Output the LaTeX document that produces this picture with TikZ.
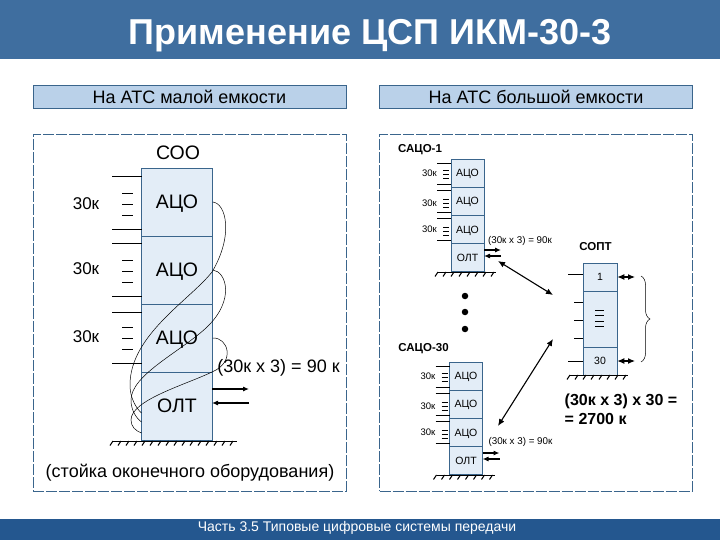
\documentclass[tikz,border=0pt]{standalone}
\usepackage{fontspec}
\setmainfont{Liberation Sans}
\usetikzlibrary{arrows.meta, decorations.pathreplacing}
\definecolor{barTop}{HTML}{3F6E9F}
\definecolor{barBot}{HTML}{24578F}
\definecolor{headFill}{HTML}{BAD1E9}
\definecolor{cellFill}{HTML}{E3EDF7}
\definecolor{edgeCol}{HTML}{3A658C}
\tikzset{
  bar/.style     ={draw=none, inner sep=0pt, text=white, minimum width=720pt},
  head/.style    ={draw=edgeCol, fill=headFill, inner sep=0pt, line width=0.6pt,
                   minimum width=313pt, minimum height=23pt,
                   font=\fontsize{18}{20}\selectfont},
  panel/.style   ={draw=edgeCol, dash pattern=on 11pt off 2pt, inner sep=0pt,
                   line width=0.6pt, minimum width=313pt, minimum height=357pt},
  bigcell/.style ={draw=edgeCol, fill=cellFill, inner sep=0pt, line width=0.7pt,
                   minimum width=70.5pt, minimum height=68pt, text depth=0pt,
                   font=\fontsize{19.5}{22}\selectfont},
  smallcell/.style={draw=edgeCol, fill=cellFill, inner sep=0pt, line width=0.6pt,
                   minimum width=33pt, minimum height=28pt, text depth=0pt,
                   font=\fontsize{10.5}{12}\selectfont},
  biglabel/.style={inner sep=0pt, font=\fontsize{17}{20}\selectfont},
  smalllabel/.style={inner sep=0pt, font=\fontsize{9.5}{11}\selectfont},
  rackname/.style={inner sep=0pt, font=\bfseries\fontsize{11.5}{14}\selectfont},
  pin/.style     ={-, black, line width=0.6pt},
  wire/.style    ={-, black, line width=0.5pt},
  flow/.style    ={-{Latex[length=6pt,width=5pt]}, black, line width=1.1pt},
  link/.style    ={{Latex[length=7pt,width=6pt]}-{Latex[length=7pt,width=6pt]}, black, line width=1.1pt},
  dotnode/.style ={circle, fill=black, inner sep=0pt, minimum size=6.5pt},
}
\newcommand{\groundline}[4]{% x1, x2, y, hatch step
  \pgfmathsetmacro{\ha}{#1}
  \pgfmathsetmacro{\hb}{#1+#4}
  \pgfmathsetmacro{\hc}{#2}
  \draw[black, line width=1pt] (\ha,#3) -- (\hc,#3);
  \foreach \hx in {\ha,\hb,...,\hc} {\draw[black, line width=1pt] (\hx,#3) -- ++(-3,4.5);}
}
\begin{document}
\begin{tikzpicture}[x=1pt, y=-1pt]
\useasboundingbox (0,0) rectangle (720,540);

\node[bar, fill=barTop, minimum height=59pt] (titlebar) at (360,29.5) {};
\node[inner sep=0pt, text=white, font=\bfseries\fontsize{36}{41}\selectfont] (title) at (370,36)
  {Применение ЦСП ИКМ-30-3};
\node[bar, fill=barBot, minimum height=21pt] (footbar) at (360,529.5) {};
\node[inner sep=0pt, text=white, font=\fontsize{14}{16}\selectfont] (foot) at (357,528)
  {Часть 3.5 Типовые цифровые системы передачи};

\node[head] (headL) at (189.5,96.5) {На АТС малой емкости};
\node[head] (headR) at (536,96.5) {На АТС большой емкости};
\node[panel] (panelL) at (189.5,312.5) {};
\node[panel] (panelR) at (536,312.5) {};

% small exchange
\foreach \name/\txt/\yc in {A/АЦО/202, B/АЦО/270, C/АЦО/338, D/ОЛТ/406} {
  \node[bigcell] (cell\name) at (177,\yc) {\txt};
}
\node[biglabel, font=\fontsize{19.5}{22}\selectfont] (soo) at (178,152.5) {СОО};
\foreach \yt in {176,229,243,296,312,363} {\draw[pin] (112,\yt) -- (141.5,\yt);}
\foreach \yt in {193,204,215,260,271,282,327,338,349} {\draw[pin] (122,\yt) -- (133,\yt);}
\foreach \num/\yc in {1/204, 2/269, 3/337} {
  \node[biglabel] (ch\num) at (86,\yc) {30к};
}
\groundline{113}{237}{441}{8}
\coordinate (endA) at (141.5,413);
\coordinate (endB) at (141.5,422);
\coordinate (endC) at (141.5,433);
\draw[wire] (cellA.east) .. controls (226,203) and (234,235) .. (212,272)
  .. controls (190,300) and (130,335) .. (130,385) .. controls (130,398) and (136,408) .. (endA);
\draw[wire] (cellB.east) .. controls (226,271) and (236,300) .. (206,328)
  .. controls (180,352) and (131,375) .. (131,400) .. controls (131,410) and (136,418) .. (endB);
\draw[wire] (cellC.east) .. controls (228,337) and (236,362) .. (212,372)
  .. controls (185,385) and (131,400) .. (131,420) .. controls (131,427) and (136,431) .. (endC);
\coordinate (outA) at (249,389);
\coordinate (outB) at (249,403);
\draw[flow] (212,389) -- (outA);
\draw[flow] (outB) -- (212,403);
\node[inner sep=0pt, font=\fontsize{18}{20}\selectfont] (sumL) at (278.5,368) {(30к х 3) = 90 к};
\node[biglabel, font=\fontsize{18}{20}\selectfont] (rackname) at (190,473) {(стойка оконечного оборудования)};

% large exchange
\foreach \rk/\xo/\yo/\rktitle/\lx/\ly in {S/451/159/САЦО-1/420/150, T/449.5/362/САЦО-30/423.5/349} {
  \foreach \name/\txt/\n in {a/АЦО/0, b/АЦО/1, c/АЦО/2, d/ОЛТ/3} {
    \node[smallcell] (\rk\name) at (\xo+16.5,\yo+14+28.2*\n) {\txt};
  }
  \node[rackname] (\rk name) at (\lx,\ly) {\rktitle};
  \foreach \yt in {4,25,31,53,59,81} {\draw[pin] (\xo-14,\yo+\yt) -- (\xo,\yo+\yt);}
  \foreach \yt in {11,15,19,40,44,48,68,72,76} {\draw[pin] (\xo-8,\yo+\yt) -- (\xo-2,\yo+\yt);}
  \foreach \n/\yt in {1/14, 2/44, 3/70} {
    \node[smalllabel] (\rk ch\n) at (\xo-21.5,\yo+\yt) {30к};
  }
  \groundline{\xo-13}{\xo+45}{\yo+113}{8}
  \coordinate (\rk outA) at (\xo+50,\yo+91);
  \coordinate (\rk outB) at (\xo+50,\yo+97);
  \draw[flow] (\xo+33,\yo+91) -- (\rk outA);
  \draw[flow] (\rk outB) -- (\xo+33,\yo+97);
}
\node[smalllabel, font=\fontsize{9.8}{11}\selectfont] (sumS) at (520,241) {(30к х 3) = 90к};
\node[smalllabel, font=\fontsize{9.8}{11}\selectfont] (sumT) at (520.5,442) {(30к х 3) = 90к};
\foreach \n/\yc in {1/296, 2/312, 3/329} {\node[dotnode] (dot\n) at (465,\yc) {};}

% optical rack
\node[rackname] (soptname) at (595.5,247) {СОПТ};
\node[smallcell, minimum width=34pt, minimum height=28pt] (opt1) at (600,277) {1};
\node[smallcell, minimum width=34pt, minimum height=56pt] (optm) at (600,319) {};
\node[smallcell, minimum width=34pt, minimum height=28pt] (opt30) at (600,361) {30};
\foreach \yt in {274,361} {\draw[pin] (568,\yt) -- (583,\yt);}
\foreach \yt in {302,320,338} {\draw[pin] (574,\yt) -- (583,\yt);}
\foreach \yt in {310,315,321,326} {\draw[pin] (595,\yt) -- (604,\yt);}
\groundline{570}{628}{375}{8}
\coordinate (opt1r) at (635,277);
\coordinate (opt30r) at (635,361);
\draw[link] (opt1.east) -- (opt1r);
\draw[link] (opt30.east) -- (opt30r);
\draw[black, line width=0.5pt, decorate, decoration={brace, amplitude=9pt}] (641,276) -- (641,362);
\coordinate (lineS) at (553,295);
\coordinate (lineT) at (553,339);
\coordinate (lineSo) at (498,261);
\coordinate (lineTo) at (498,426);
\draw[link] (lineSo) -- (lineS);
\draw[link] (lineTo) -- (lineT);
\node[inner sep=0pt, align=left, font=\bfseries\fontsize{16}{19}\selectfont] (total) at (621,409.5)
  {(30к х 3) х 30 =\\= 2700 к};

\end{tikzpicture}
\end{document}
